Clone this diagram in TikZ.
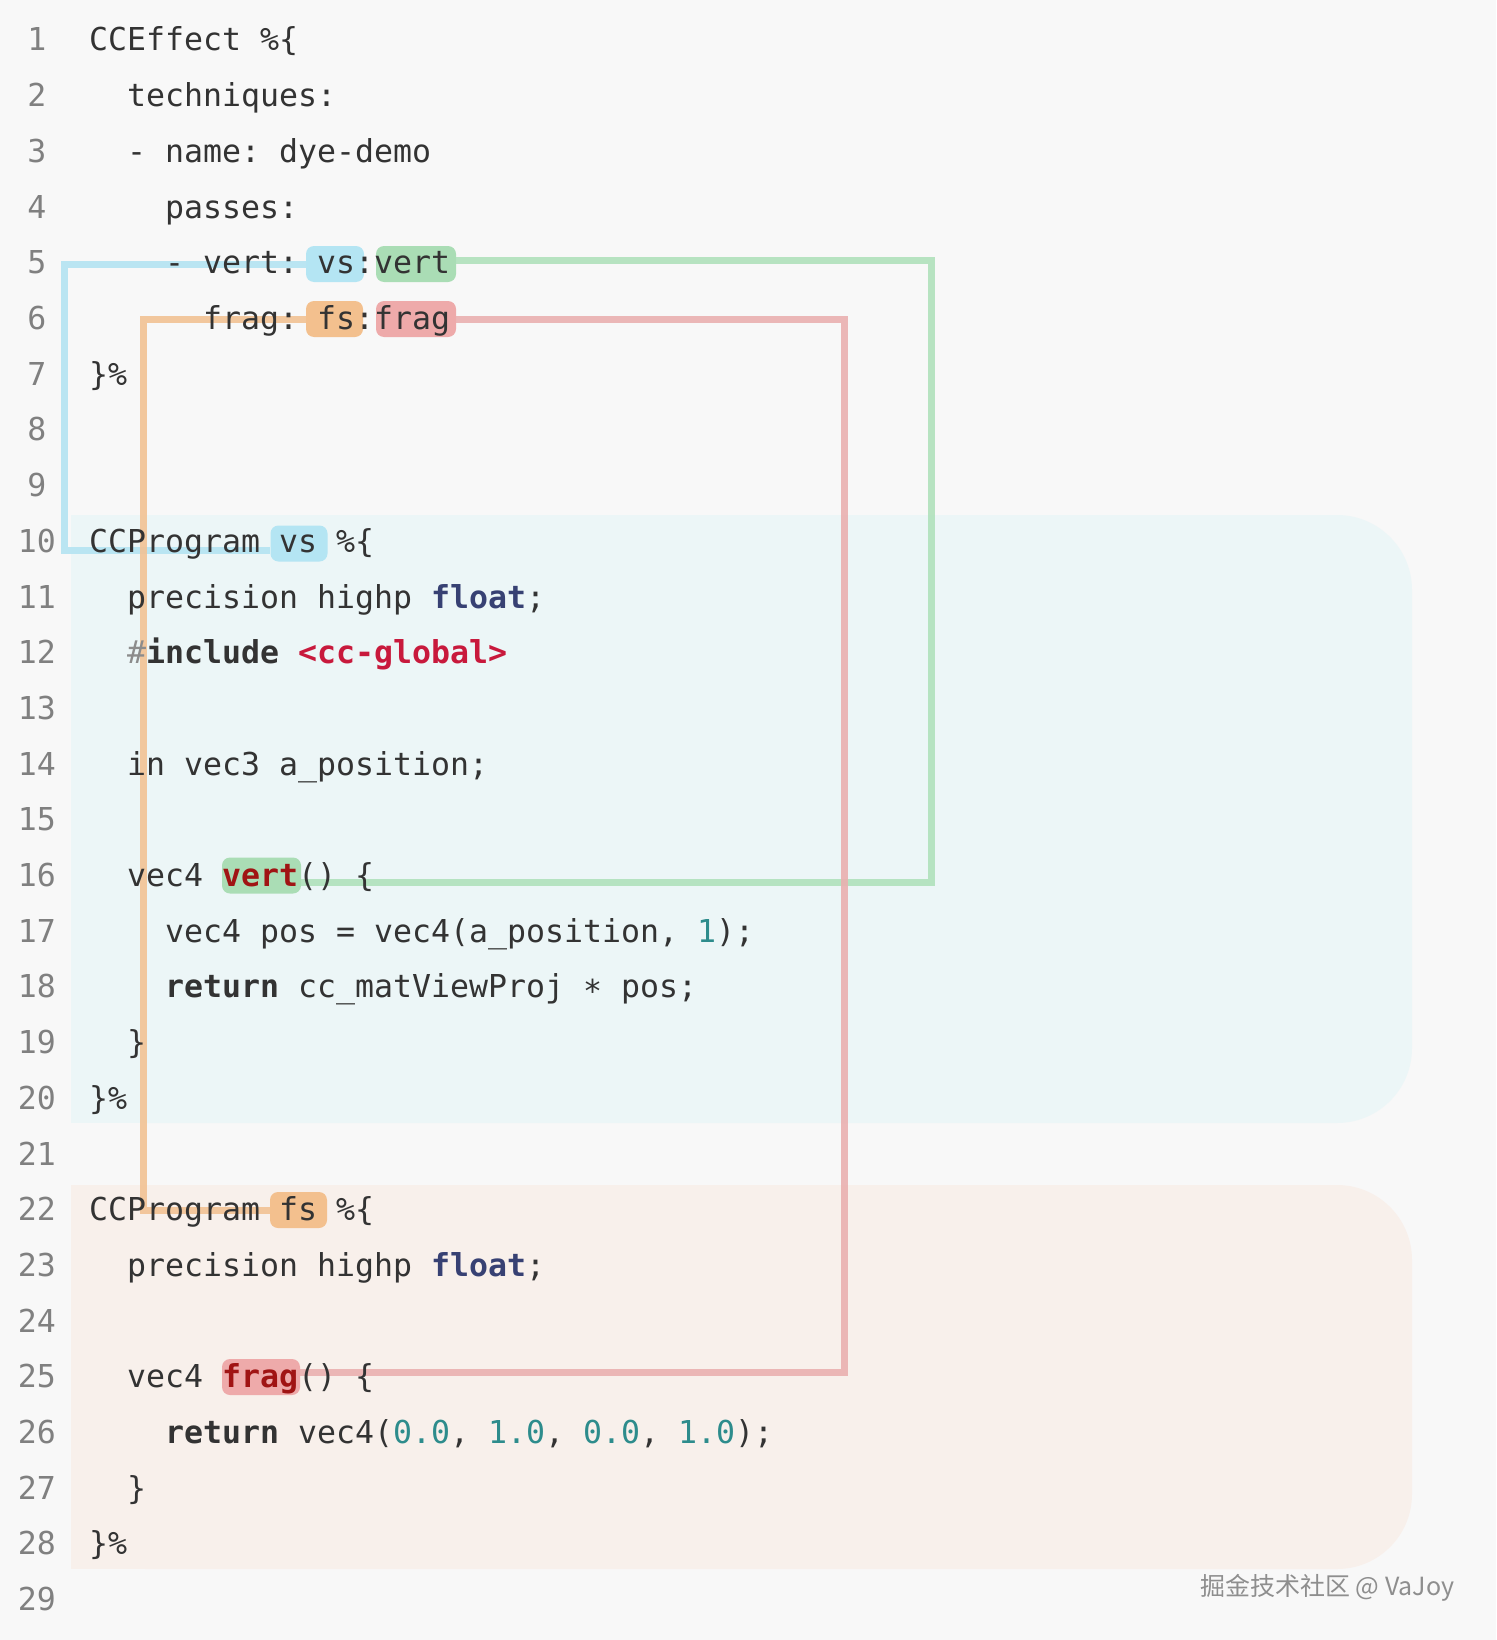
\documentclass[tikz,border=0pt]{standalone}
\usepackage{fontspec}
\usepackage{tikz}
\newfontfamily\codefont{DejaVu Sans Mono}
\newfontfamily\cjkfont{Noto Sans CJK SC}
\definecolor{pagebg}{RGB}{248,248,248}
\definecolor{vspanel}{RGB}{236,246,247}
\definecolor{fspanel}{RGB}{248,240,235}
\definecolor{codegray}{RGB}{51,51,51}
\definecolor{numgray}{RGB}{128,128,128}
\definecolor{typeblue}{RGB}{55,65,115}
\definecolor{strred}{RGB}{200,25,60}
\definecolor{fnred}{RGB}{160,20,20}
\definecolor{numteal}{RGB}{45,140,140}
\definecolor{hashgray}{RGB}{140,140,140}
\definecolor{vsfill}{RGB}{180,229,243}
\definecolor{vertfill}{RGB}{170,221,181}
\definecolor{fsfill}{RGB}{243,192,142}
\definecolor{fragfill}{RGB}{238,170,170}
\definecolor{vsline}{RGB}{180,228,242}
\definecolor{vertline}{RGB}{176,225,188}
\definecolor{fsline}{RGB}{242,194,148}
\definecolor{fragline}{RGB}{234,176,176}
\definecolor{markgray}{RGB}{142,142,142}

\begin{document}
\begin{tikzpicture}[x=1pt,y=-1pt,
    code/.style={anchor=base west,inner sep=0pt,text=codegray,font=\codefont\fontsize{31.56}{38}\selectfont\frenchspacing},
    num/.style={anchor=base,inner sep=0pt,text=numgray,font=\codefont\fontsize{31.56}{38}\selectfont},
    hlbox/.style={inner sep=0pt,minimum height=36pt,rounded corners=8pt},
    link/.style={line width=7pt,opacity=0.9}]
    \useasboundingbox (0,0) rectangle (1496,1640);
    \fill[pagebg] (0,0) rectangle (1496,1640);
    \fill[vspanel,rounded corners=75pt] (71,515) rectangle (1412,1123);
    \fill[vspanel] (71,515) rectangle (300,1123);
    \fill[fspanel,rounded corners=75pt] (71,1185) rectangle (1412,1569);
    \fill[fspanel] (71,1185) rectangle (300,1569);

    \node[hlbox,fill=vsfill,minimum width=58pt] (vs1) at (335,264) {};
    \node[hlbox,fill=vertfill,minimum width=80pt] (vert1) at (416,264) {};
    \node[hlbox,fill=fsfill,minimum width=57pt] (fs1) at (334.5,319) {};
    \node[hlbox,fill=fragfill,minimum width=80pt] (frag1) at (416,319) {};
    \node[hlbox,fill=vsfill,minimum width=57pt] (vs2) at (299,543.5) {};
    \node[hlbox,fill=vertfill,minimum width=79pt] (vert2) at (261.5,875.5) {};
    \node[hlbox,fill=fsfill,minimum width=57pt] (fs2) at (298.5,1210) {};
    \node[hlbox,fill=fragfill,minimum width=78pt] (frag2) at (261,1377) {};

    \draw[link,vsline] (vs1.west) -| (64,550) -- ([yshift=-6.5pt]vs2.west);
    \draw[link,fsline] (fs1.west) -| (143.5,1210) -- (fs2.west);
    \draw[link,vertline] ([yshift=4pt]vert1.east) -| (931,882) -- ([yshift=-6.5pt]vert2.east);
    \draw[link,fragline] (frag1.east) -| (844,1372) -- ([yshift=5pt]frag2.east);

    \node[num] (n1) at (37,51) {1};
    \node[num] (n2) at (37,106.7) {2};
    \node[num] (n3) at (37,162.4) {3};
    \node[num] (n4) at (37,218.1) {4};
    \node[num] (n5) at (37,273.8) {5};
    \node[num] (n6) at (37,329.5) {6};
    \node[num] (n7) at (37,385.2) {7};
    \node[num] (n8) at (37,440.9) {8};
    \node[num] (n9) at (37,496.6) {9};
    \node[num] (n10) at (37,552.3) {10};
    \node[num] (n11) at (37,608) {11};
    \node[num] (n12) at (37,663.7) {12};
    \node[num] (n13) at (37,719.4) {13};
    \node[num] (n14) at (37,775.1) {14};
    \node[num] (n15) at (37,830.8) {15};
    \node[num] (n16) at (37,886.5) {16};
    \node[num] (n17) at (37,942.2) {17};
    \node[num] (n18) at (37,997.9) {18};
    \node[num] (n19) at (37,1053.6) {19};
    \node[num] (n20) at (37,1109.3) {20};
    \node[num] (n21) at (37,1165) {21};
    \node[num] (n22) at (37,1220.7) {22};
    \node[num] (n23) at (37,1276.4) {23};
    \node[num] (n24) at (37,1332.1) {24};
    \node[num] (n25) at (37,1387.8) {25};
    \node[num] (n26) at (37,1443.5) {26};
    \node[num] (n27) at (37,1499.2) {27};
    \node[num] (n28) at (37,1554.9) {28};
    \node[num] (n29) at (37,1610.6) {29};

    \node[code] (l1) at (89,51) {CCEffect \%\{};
    \node[code] (l2) at (127,106.7) {techniques:};
    \node[code] (l3) at (127,162.4) {- name: dye-demo};
    \node[code] (l4) at (165,218.1) {passes:};
    \node[code] (l5) at (165,273.8) {- vert: vs:vert};
    \node[code] (l6) at (203,329.5) {frag: fs:frag};
    \node[code] (l7) at (89,385.2) {\}\%};
    \node[code] (l10) at (89,552.3) {CCProgram vs \%\{};
    \node[code] (l11) at (127,608) {precision highp {\bfseries\color{typeblue}float};};
    \node[code] (l12) at (127,663.7) {{\color{hashgray}\#}{\bfseries include} {\bfseries\color{strred}<cc-global>}};
    \node[code] (l14) at (127,775.1) {in vec3 a\_position;};
    \node[code] (l16) at (127,886.5) {vec4 {\bfseries\color{fnred}vert}() \{};
    \node[code] (l17) at (165,942.2) {vec4 pos = vec4(a\_position, {\color{numteal}1});};
    \node[code] (l18) at (165,997.9) {{\bfseries return} cc\_matViewProj \raisebox{-5pt}{*} pos;};
    \node[code] (l19) at (127,1053.6) {\}};
    \node[code] (l20) at (89,1109.3) {\}\%};
    \node[code] (l22) at (89,1220.7) {CCProgram fs \%\{};
    \node[code] (l23) at (127,1276.4) {precision highp {\bfseries\color{typeblue}float};};
    \node[code] (l25) at (127,1387.8) {vec4 {\bfseries\color{fnred}frag}() \{};
    \node[code] (l26) at (165,1443.5) {{\bfseries return} vec4({\color{numteal}0.0}, {\color{numteal}1.0}, {\color{numteal}0.0}, {\color{numteal}1.0});};
    \node[code] (l27) at (127,1499.2) {\}};
    \node[code] (l28) at (89,1554.9) {\}\%};

    \node[anchor=base west,inner sep=0pt,text=markgray,font=\cjkfont\fontsize{25}{30}\selectfont] (mark) at (1200,1595) {掘金技术社区 @ VaJoy};
\end{tikzpicture}
\end{document}
